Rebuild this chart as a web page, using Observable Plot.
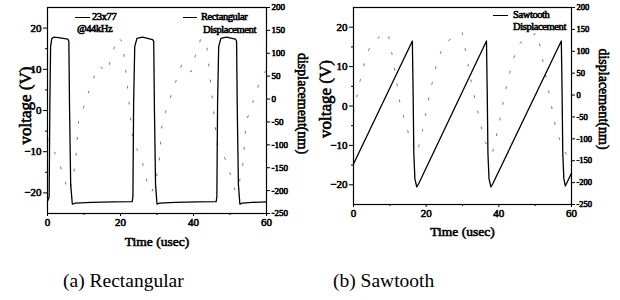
<!DOCTYPE html>
<html><head><meta charset="utf-8">
<script src="https://cdn.jsdelivr.net/npm/d3@7"></script>
<script src="https://cdn.jsdelivr.net/npm/@observablehq/plot@0.6"></script>
<style>
body{margin:0;background:#fff;}
#wrap{position:relative;width:620px;height:300px;background:#fff;font-family:"Liberation Serif","Times New Roman",serif;color:#000;overflow:hidden;}
#wrap svg text{font-family:"Liberation Serif","Times New Roman",serif !important;font-weight:normal !important;stroke:#000;stroke-width:0.6px;}
.panel{position:absolute;top:0;}
.leg{position:absolute;font-weight:normal;font-size:10.5px;line-height:12px;white-space:nowrap;letter-spacing:-0.4px;-webkit-text-stroke:0.6px #000;}
.sw{position:absolute;height:0;border-top:1.2px solid #000;}
.cap{position:absolute;top:271px;font-size:19.5px;line-height:19px;white-space:nowrap;}
</style></head><body>
<div id="wrap">
  <div id="pa" class="panel" style="left:0"></div>
  <div id="pb" class="panel" style="left:310px"></div>
  <div class="sw" style="left:75px;top:17px;width:15px"></div>
  <div class="leg" style="left:92px;top:11px">23x77</div>
  <div class="leg" style="left:77px;top:23px">@44kHz</div>
  <div class="sw" style="left:183px;top:17px;width:14px"></div>
  <div class="leg" style="left:201px;top:11px">Rectangular</div>
  <div class="leg" style="left:203px;top:24px">Displacement</div>
  <div class="sw" style="left:493px;top:15px;width:15px"></div>
  <div class="leg" style="left:513px;top:9px">Sawtooth</div>
  <div class="leg" style="left:513px;top:21px">Displacement</div>
  <div class="cap" style="left:63px">(a) Rectangular</div>
  <div class="cap" style="left:333px">(b) Sawtooth</div>
</div>
<script>
// ---- data ----
const xTicks = [0, 20, 40, 60];
const xMinor = [10, 30, 50];
const vTicks = [-20, -10, 0, 10, 20];
const vMinor = [-15, -5, 5, 15];
const dTicks = [-250, -200, -150, -100, -50, 0, 50, 100, 150, 200];

// (a) rectangular drive voltage (V) vs time (usec)
const rectT = [0, 0.45, 0.65, 0.85, 1.15, 1.7, 3.0, 5.6, 5.85, 6.05, 6.35, 6.8, 7.6, 12, 18, 23.2, 23.4, 23.6, 23.9, 24.5, 26, 28.8, 29.1, 29.3, 29.6, 30.0, 30.7, 35, 41, 46.2, 46.4, 46.6, 46.9, 47.5, 49, 51.5, 51.8, 52.0, 52.3, 52.7, 53.4, 56, 60];
const rectV = [-22.0, -21.0, 2, 15.5, 17.4, 17.8, 17.7, 17.3, 16.8, 0, -18, -22.7, -22.5, -22.3, -22.2, -22.1, -21.0, 2, 15.5, 17.5, 17.8, 17.2, 16.8, 0, -18, -22.7, -22.5, -22.3, -22.2, -22.1, -21.0, 2, 15.5, 17.5, 17.8, 17.3, 16.8, 0, -18, -22.7, -22.5, -22.3, -22.2];
// (a) displacement (nm)
const rectDispT = [0, 0.6, 1.6, 3.0, 4.5, 5.6, 6.6, 7.7, 8.5, 9.9, 12.2, 14.0, 16.4, 17.8, 19.1, 20.6, 22.0, 23.5, 24.5, 25.9, 27.4, 28.5, 29.5, 30.6, 31.4, 32.8, 35.1, 36.9, 39.3, 40.7, 42.0, 43.5, 44.9, 46.5, 47.5, 48.9, 50.4, 51.5, 52.5, 53.6, 54.4, 55.8, 58.1, 60];
const rectDispD = [-85, -100, -110, -135, -170, -203, -185, -138, -50, -18, 37, 73, 59, 100, 135, 125, 20, -100, -110, -135, -185, -204, -185, -138, -50, -18, 37, 78, 59, 100, 132, 125, 20, -100, -110, -135, -172, -203, -185, -138, -50, -18, 37, 65];

// (b) sawtooth drive voltage (V)
const sawT = [0, 16.2, 16.4, 16.6, 16.9, 17.4, 17.9, 36.6, 36.8, 37.0, 37.3, 37.8, 38.3, 57.2, 57.4, 57.6, 57.9, 58.3, 59.2, 60];
const sawV = [-14.7, 16.5, 4, -12, -18.5, -20.5, -19.8, 16.5, 4, -12, -18.5, -20.5, -19.8, 16.5, 4, -12, -18.5, -20.3, -18.6, -17.0];
// (b) displacement (nm)
const sawDispT = [0, 2, 3.5, 5.1, 7.2, 9.5, 11, 12.9, 15.7, 17.5, 19, 21, 23, 24.9, 27.4, 29.9, 31.3, 32.7, 36, 38.2, 39.7, 41.7, 43.7, 45.5, 48, 50.6, 52.2, 53.8, 55.6, 57.5, 58.8, 60];
const sawDispD = [-40, 40, 90, 120, 133, 143, 75, -24, -104, -134, -80, 5, 75, 117, 132, 143, 80, 18, -104, -134, -80, 5, 75, 117, 130, 143, 75, 5, -73, -120, -138, -110];

// ---- scales ----
const VMIN = -25, VMAX = 25, DMIN = -250, DMAX = 200;
const toV = d => VMIN + (d - DMIN) * (VMAX - VMIN) / (DMAX - DMIN);
const toD = v => DMIN + (v - VMIN) * (DMAX - DMIN) / (VMAX - VMIN);
const FF = '"Liberation Serif","Times New Roman",serif';

function panel(o) {
  const volt = o.vt.map((t, i) => ({t, v: o.vv[i]}));
  const disp = o.dt.map((t, i) => ({t, v: toV(o.dd[i])}));
  return Plot.plot({
    width: 310, height: 255,
    marginLeft: o.ml, marginRight: o.mr, marginTop: 7, marginBottom: o.mb,
    style: {fontFamily: FF, background: "transparent", color: "#000"},
    x: {domain: [0, 60]},
    y: {domain: [VMIN, VMAX]},
    marks: [
      Plot.axisX(xTicks, {tickSize: 3, tickPadding: 2, fontSize: 11, fontFamily: FF, label: null}),
      Plot.axisX(xMinor, {tickSize: 2, tickFormat: () => "", label: null}),
      Plot.axisY(vTicks, {anchor: "left", tickSize: 4, tickPadding: 2, fontSize: 11, fontFamily: FF, label: null}),
      Plot.axisY(vMinor, {anchor: "left", tickSize: 2, tickFormat: () => "", label: null}),
      Plot.axisY(dTicks.map(toV), {anchor: "right", tickSize: 3, tickPadding: 2, fontSize: o.rfs, fontFamily: FF, tickFormat: v => String(Math.round(toD(v))), label: null}),
      Plot.line(disp, {x: "t", y: "v", stroke: "#666", strokeWidth: 0.9, strokeDasharray: "2,14"}),
      Plot.line(volt, {x: "t", y: "v", stroke: "#000", strokeWidth: 1.3}),
      Plot.frame({stroke: "#000", strokeWidth: 1.2}),
      Plot.text(["voltage (V)"], {text: d => d, frameAnchor: "left", textAnchor: "middle", rotate: -90, dx: o.vdx, dy: o.vdy, fontSize: 17, fontFamily: FF}),
      Plot.text(["displacement(nm)"], {text: d => d, frameAnchor: "right", textAnchor: "middle", rotate: 90, dx: o.ddx, dy: o.ddy, fontSize: 14, fontFamily: FF}),
      Plot.text(["Time (usec)"], {text: d => d, frameAnchor: "bottom", textAnchor: "middle", dy: o.tdy, fontSize: 13.5, fontFamily: FF})
    ]
  });
}

document.getElementById("pa").append(panel({
  vt: rectT, vv: rectV, dt: rectDispT, dd: rectDispD,
  ml: 47, mr: 44, mb: 42, rfs: 9, vdx: -22, vdy: -5, ddx: 36, ddy: -7, tdy: 32
}));
document.getElementById("pb").append(panel({
  vt: sawT, vv: sawV, dt: sawDispT, dd: sawDispD,
  ml: 43, mr: 49, mb: 51, rfs: 8.5, vdx: -28, vdy: -7, ddx: 32, ddy: -7, tdy: 31
}));
</script>
</body></html>
